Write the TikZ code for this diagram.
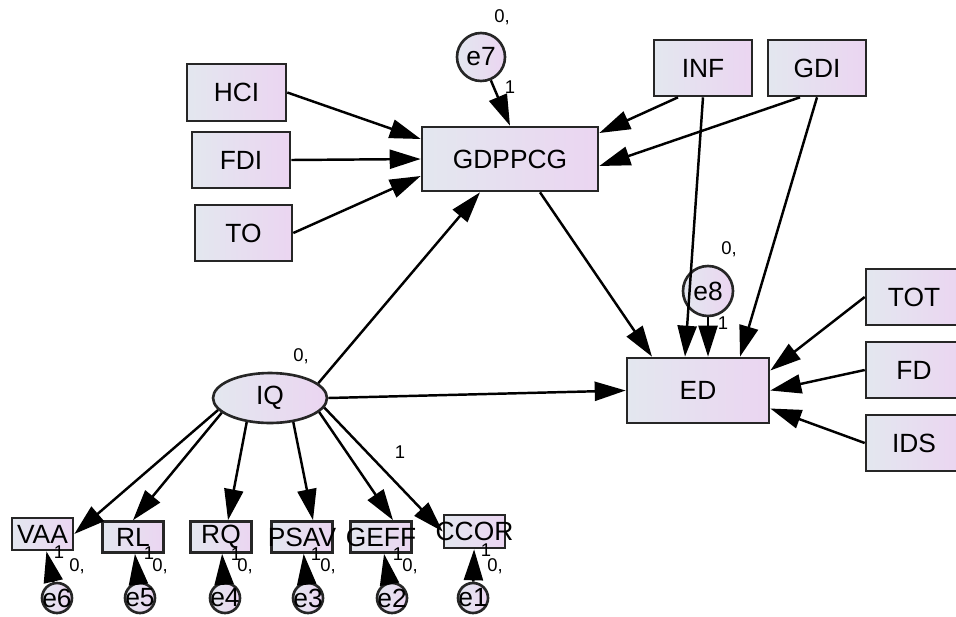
\documentclass[tikz,border=0pt]{standalone}
\usepackage{fontspec}
\setmainfont{Liberation Sans}
\usetikzlibrary{positioning,shapes,arrows.meta}
\definecolor{mist}{HTML}{E3E7EF}
\definecolor{lilac}{HTML}{EBD5F1}

\tikzset{
  var/.style={rectangle, draw=black!85, line width=1.5pt, left color=mist, right color=lilac,
    inner sep=0pt, font=\fontsize{15}{15}\selectfont},
  obs/.style={var, minimum width=1.22cm, minimum height=0.62cm, font=\fontsize{15}{15}\selectfont},
  lat/.style={ellipse, draw=black!85, line width=1.5pt, left color=mist, right color=lilac,
    inner sep=0pt, minimum width=2.28cm, minimum height=1cm, font=\fontsize{15}{15}\selectfont},
  err/.style={circle, draw=black!85, line width=1.5pt, left color=mist, right color=lilac,
    inner sep=0pt, minimum size=0.96cm, font=\fontsize{15}{15}\selectfont},
  errs/.style={err, minimum size=0.6cm, font=\fontsize{15}{15}\selectfont},
  reg/.style={-{Triangle[length=0.62cm,width=0.38cm]}, line width=1.4pt},
  num/.style={inner sep=0pt, font=\fontsize{10.5}{10.5}\selectfont}
}

\begin{document}
\begin{tikzpicture}[x=0.02cm, y=-0.02cm]
  \useasboundingbox (0,0) rectangle (956,616);

  % exogenous drivers of growth
  \node[var, minimum width=1.98cm, minimum height=1.14cm] (hci) at (236.5,92.5) {HCI};
  \node[var, minimum width=1.96cm, minimum height=1.12cm] (fdi) at (241,160) {FDI};
  \node[var, minimum width=1.94cm, minimum height=1.12cm] (to) at (243.5,233) {TO};
  \node[var, minimum width=1.96cm, minimum height=1.12cm] (inf) at (703,68) {INF};
  \node[var, minimum width=1.96cm, minimum height=1.12cm] (gdi) at (817,68) {GDI};

  \node[var, minimum width=3.52cm, minimum height=1.28cm] (gdp) at (510,159) {GDPPCG};
  \node[var, minimum width=2.84cm, minimum height=1.3cm] (ed) at (698,390.5) {ED};

  % debt side
  \node[var, minimum width=1.92cm, minimum height=1.12cm] (tot) at (914,297) {TOT};
  \node[var, minimum width=1.92cm, minimum height=1.12cm] (fd) at (914,370) {FD};
  \node[var, minimum width=1.92cm, minimum height=1.12cm] (ids) at (914,443) {IDS};

  % structural errors
  \node[err] (e7) at (481,57) {e7};
  \node[num] (m7) at (502,17) {0,};
  \node[num] (w7) at (510,87) {1};
  \node[err, minimum size=1cm] (e8) at (708,291) {e8};
  \node[num] (m8) at (729,249) {0,};
  \node[num] (w8) at (723,323) {1};

  % latent institutional quality
  \node[lat] (iq) at (270,398) {IQ};
  \node[num] (miq) at (301,356) {0,};
  \node[num] (wiq) at (400,452) {1};

  % indicators
  \node[obs, minimum height=0.64cm] (vaa) at (42.5,534) {\makebox[0pt]{VAA}};
  \node[obs] (rl) at (133,537) {\makebox[0pt]{RL}};
  \node[obs] (rq) at (221,537) {\makebox[0pt]{RQ}};
  \node[obs] (psav) at (302,537) {\makebox[0pt]{PSAV}};
  \node[obs] (geff) at (381,537) {\makebox[0pt]{GEFF}};
  \node[obs, minimum height=0.66cm] (ccor) at (474.5,531.5) {\makebox[0pt]{CCOR}};

  \node[errs] (e6) at (57,598) {\makebox[0pt]{e6}};
  \node[errs] (e5) at (140,598) {\makebox[0pt]{e5}};
  \node[errs] (e4) at (225,598) {\makebox[0pt]{e4}};
  \node[errs] (e3) at (308,598) {\makebox[0pt]{e3}};
  \node[errs] (e2) at (392,598) {\makebox[0pt]{e2}};
  \node[errs] (e1) at (473,598) {\makebox[0pt]{e1}};

  \node[num] (w6) at (59,552) {1};
  \node[num] (m6) at (77,566) {0,};
  \node[num] (w5) at (149,553) {1};
  \node[num] (m5) at (160,566) {0,};
  \node[num] (w4) at (236,554) {1};
  \node[num] (m4) at (245,566) {0,};
  \node[num] (w3) at (316,554) {1};
  \node[num] (m3) at (328,566) {0,};
  \node[num] (w2) at (398,554) {1};
  \node[num] (m2) at (410,566) {0,};
  \node[num] (w1) at (486,550) {1};
  \node[num] (m1) at (495,566) {0,};

  % paths into GDPPCG
  \draw[reg] (hci.east) -- ([yshift=0.4cm]gdp.west);
  \draw[reg] (fdi.east) -- (gdp.west);
  \draw[reg] (to.east) -- ([yshift=-0.34cm]gdp.west);
  \draw[reg] ([xshift=-0.5cm]inf.south) -- ([yshift=0.52cm]gdp.east);
  \draw[reg] ([xshift=-0.34cm]gdi.south) -- ([yshift=-0.14cm]gdp.east);
  \draw[reg] (e7) -- (gdp.north);
  \draw[reg] (iq.17) -- ([xshift=-0.6cm]gdp.south);

  % paths into ED
  \draw[reg] ([xshift=0.6cm]gdp.south) -- ([xshift=-0.92cm]ed.north);
  \draw[reg] (inf.south) -- ([xshift=-0.26cm]ed.north);
  \draw[reg] (gdi.south) -- ([xshift=0.84cm]ed.north);
  \draw[reg] (e8) -- (e8 |- ed.north);
  \draw[reg] (iq.0) -- (ed.west);
  \draw[reg] (tot.west) -- ([yshift=0.4cm]ed.east);
  \draw[reg] (fd.west) -- (ed.east);
  \draw[reg] (ids.west) -- ([yshift=-0.36cm]ed.east);

  % measurement part
  \draw[reg] (iq.193) -- (vaa.east);
  \draw[reg] (iq.197) -- (rl.north);
  \draw[reg] (iq.226) -- ([xshift=0.14cm]rq.north);
  \draw[reg] (iq.314) -- ([xshift=0.22cm]psav.north);
  \draw[reg] (iq.344) -- ([xshift=0.24cm]geff.north);
  \draw[reg] (iq.350) -- (ccor.west);

  \draw[reg] (e6) -- (vaa);
  \draw[reg] (e5) -- (rl);
  \draw[reg] (e4) -- (rq);
  \draw[reg] (e3) -- (psav);
  \draw[reg] (e2) -- (geff);
  \draw[reg] (e1) -- (ccor);
\end{tikzpicture}
\end{document}
